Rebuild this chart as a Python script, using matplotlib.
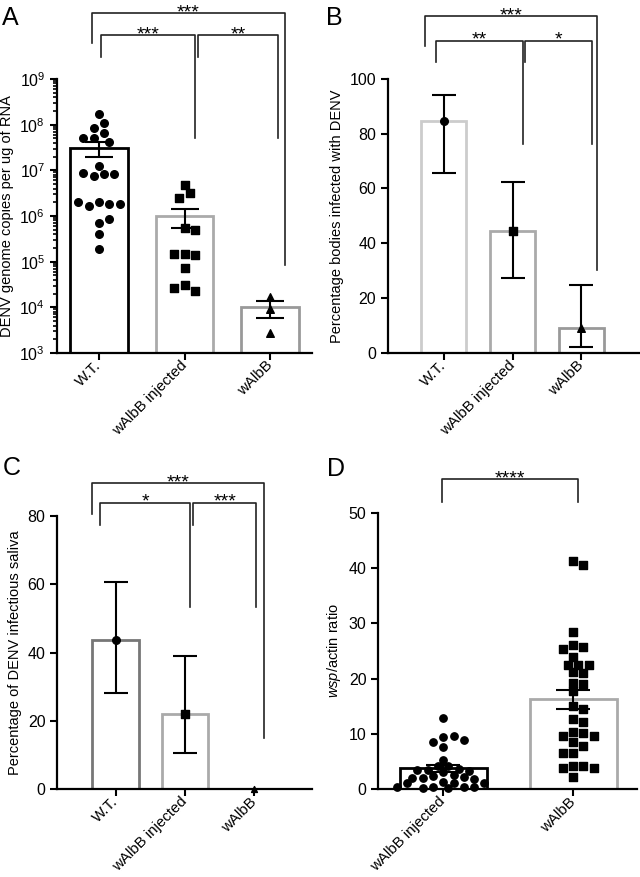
import numpy as np
import matplotlib
matplotlib.use("Agg")
import matplotlib.pyplot as plt
from matplotlib.ticker import LogLocator, NullFormatter

plt.rcParams['font.family'] = ['Liberation Sans', 'DejaVu Sans']
plt.rcParams['mathtext.fontset'] = 'custom'
plt.rcParams['mathtext.rm'] = 'Liberation Sans'
plt.rcParams['mathtext.it'] = 'Liberation Sans:italic'

groups3 = ['W.T.', 'wAlbB injected', 'wAlbB']
groups2 = ['wAlbB injected', 'wAlbB']

# A: DENV genome copies per ug RNA
a_wt = [1.7e8, 1.1e8, 8.3e7, 6.7e7, 5.0e7, 4.2e7, 5.0e7, 1.26e7, 8.5e6, 7.4e6, 8.2e6,
        8.9e6, 2.0e6, 1.8e6, 1.66e6, 1.85e6, 2.0e6, 6.9e5, 8.5e5, 4.0e5, 1.9e5]
a_inj = [4.8e6, 3.2e6, 2.5e6, 5.4e5, 5.0e5, 1.5e5, 1.4e5, 1.5e5, 7.4e4, 3.1e4, 2.3e4, 2.6e4]
a_walbb = [1.7e4, 9.0e3, 2.8e3]
a_mean = [3.1e7, 1.0e6, 1.0e4]
a_lo = [2.0e7, 5.5e5, 5.8e3]
a_hi = [4.1e7, 1.45e6, 1.4e4]

# B: percentage bodies infected
b_pct = [84.5, 44.4, 9.1]
b_lo = [65.8, 27.3, 2.2]
b_hi = [94.3, 62.4, 24.6]

# C: percentage infectious saliva
c_pct = [43.7, 21.9, 0.0]
c_lo = [28.1, 10.5, 0.0]
c_hi = [60.7, 39.0, 0.0]

# D: wsp/actin ratio
d_inj = [12.8, 9.5, 9.6, 8.6, 9.0, 7.7, 5.3, 4.3, 4.2, 3.6, 3.4, 3.3, 3.5, 3.2, 2.6,
         2.4, 2.2, 2.0, 1.9, 2.1, 1.3, 1.2, 1.1, 1.2, 0.5, 0.4, 0.2, 0.3, 0.4, 0.5]
d_walbb = [41.2, 40.6, 28.5, 26.0, 25.7, 25.4, 23.9, 22.5, 22.5, 22.5, 21.2, 21.0, 19.3,
           19.0, 17.8, 15.1, 14.6, 12.7, 12.2, 10.4, 10.1, 9.6, 9.6, 8.6, 7.8, 6.6, 6.6,
           4.3, 4.3, 3.9, 3.9, 2.3]
d_mean = [3.8, 16.3]
d_lo = [3.1, 14.5]
d_hi = [4.4, 18.0]

W, H = 640, 877
fig = plt.figure(figsize=(W / 100, H / 100), dpi=100)


def axes_px(left, top, right, bottom):
    return fig.add_axes([left / W, 1 - bottom / H, (right - left) / W, (bottom - top) / H])


def style(ax, labels):
    for s in ['top', 'right']:
        ax.spines[s].set_visible(False)
    for s in ['left', 'bottom']:
        ax.spines[s].set_linewidth(1.6)
    ax.tick_params(width=1.5, length=5, labelsize=11.5, direction='out')
    ax.tick_params(axis='x', labelsize=10.8, pad=2.5)
    ax.set_xticks(range(len(labels)))
    ax.set_xticklabels(labels, rotation=45, ha='right', va='center', rotation_mode='anchor')


def swarm(ax, xc, vals, gap, tight=0.75):
    # simple beeswarm: half-step offsets, pixel based collision test
    disp = ax.transData.transform(np.column_stack([np.full(len(vals), xc), vals]))
    cands = [0]
    for i in range(1, 40):
        cands += [i * 0.5, -i * 0.5]
    placed = []
    for px, py in disp:
        for c in cands:
            cx = px + c * gap
            if all((cx - qx) ** 2 + (py - qy) ** 2 >= (gap * tight) ** 2 for qx, qy in placed):
                break
        placed.append((cx, py))
    back = ax.transData.inverted().transform(np.array(placed))
    return back[:, 0]


def bracket(ax, x1, x2, y, y1, y2, text):
    ax.plot([x1, x1, x2, x2], [y1, y, y, y2], color='#222222', lw=1.2, clip_on=False)
    ax.annotate(text, ((x1 + x2) / 2, y), xytext=(0, -3), textcoords='offset points',
                ha='center', va='baseline', fontsize=14, annotation_clip=False)


def errs(ax, x, mid, lo, hi, cap):
    mid = np.array(mid); lo = np.array(lo); hi = np.array(hi)
    ax.errorbar(x, mid, yerr=[mid - lo, hi - mid], fmt='none', ecolor='k',
                elinewidth=1.5, capsize=cap, capthick=1.5, zorder=4, clip_on=False)


# ---------- A ----------
ax = axes_px(57, 79, 312, 353)
ax.set_yscale('log')
ax.set_ylim(1e3, 1e9)
ax.set_xlim(-0.49, 2.49)
style(ax, groups3)
ax.yaxis.set_minor_locator(LogLocator(base=10, subs=np.arange(2, 10)))
ax.yaxis.set_minor_formatter(NullFormatter())
ax.tick_params(which='minor', width=1.2, length=3)
ax.bar(range(3), np.array(a_mean) - 1e3, bottom=1e3, width=0.67, color='white',
       edgecolor=['black', '#aaaaaa', '#999999'], linewidth=2, zorder=2)
errs(ax, range(3), a_mean, a_lo, a_hi, 10)
ax.scatter(swarm(ax, 0, a_wt, 10.3, 0.9), a_wt, s=30, marker='o', color='black', zorder=5)
ax.scatter(swarm(ax, 1, a_inj, 10.3, 0.9), a_inj, s=28, marker='s', color='black', zorder=5)
ax.scatter(swarm(ax, 2, a_walbb, 10.3), a_walbb, s=30, marker='^', color='black', zorder=5)
ax.set_ylabel('DENV genome copies per ug of RNA', fontsize=10.5)
bracket(ax, -0.08, 2.175, 10 ** 10.444, 10 ** 9.788, 10 ** 4.93, '***')
bracket(ax, 0.023, 1.12, 10 ** 9.963, 10 ** 9.481, 10 ** 7.709, '***')
bracket(ax, 1.16, 2.09, 10 ** 9.963, 10 ** 9.481, 10 ** 7.709, '**')

# ---------- B ----------
ax = axes_px(388, 79, 640, 352.7)
ax.set_ylim(0, 100)
ax.set_xlim(-0.81, 2.85)
style(ax, groups3)
ax.set_yticks([0, 20, 40, 60, 80, 100])
ax.bar(range(3), b_pct, width=0.66, color='white',
       edgecolor=['#cccccc', '#aaaaaa', '#999999'], linewidth=2, zorder=2)
errs(ax, range(3), b_pct, b_lo, b_hi, 8.6)
for i, m in enumerate(['o', 's', '^']):
    ax.scatter([i], [b_pct[i]], s=30, marker=m, color='black', zorder=5)
ax.set_ylabel('Percentage bodies infected with DENV', fontsize=10.5)
bracket(ax, -0.27, 2.23, 123, 112, 30.2, '***')
bracket(ax, -0.11, 1.15, 114, 106.2, 76.3, '**')
bracket(ax, 1.18, 2.16, 114, 106.2, 76.3, '*')

# ---------- C ----------
ax = axes_px(57.3, 516, 311.7, 789.3)
ax.set_ylim(0, 80)
ax.set_xlim(-0.84, 2.83)
style(ax, groups3)
ax.set_yticks([0, 20, 40, 60, 80])
ax.bar(range(3), c_pct, width=0.67, color='white',
       edgecolor=['#777777', '#aaaaaa', '#999999'], linewidth=2, zorder=2)
errs(ax, range(2), c_pct[:2], c_lo[:2], c_hi[:2], 8.6)
for i, m in enumerate(['o', 's', '^']):
    ax.scatter([i], [c_pct[i]], s=30 if i < 2 else 18, marker=m, color='black',
               zorder=5, clip_on=False)
ax.set_ylabel('Percentage of DENV infectious saliva', fontsize=10.5)
bracket(ax, -0.34, 2.14, 89.6, 80.6, 15.0, '***')
bracket(ax, -0.22, 1.08, 83.9, 77.3, 53.4, '*')
bracket(ax, 1.12, 2.03, 83.9, 77.3, 53.4, '***')

# ---------- D ----------
ax = axes_px(378.3, 512.7, 636.7, 789.3)
ax.set_ylim(0, 50)
ax.set_xlim(-0.5, 1.49)
style(ax, groups2)
ax.set_yticks([0, 10, 20, 30, 40, 50])
ax.bar(range(2), d_mean, width=0.67, color='white',
       edgecolor=['black', '#aaaaaa'], linewidth=2, zorder=2)
errs(ax, range(2), d_mean, d_lo, d_hi, 12)
ax.scatter(swarm(ax, 0, d_inj, 10.3, 0.72), d_inj, s=28, marker='o', color='black',
           zorder=5, clip_on=False)
ax.scatter(swarm(ax, 1, d_walbb, 10.3, 0.8), d_walbb, s=28, marker='s', color='black',
           zorder=5, clip_on=False)
ax.set_ylabel(r'$\mathit{wsp}$/actin ratio', fontsize=10.5)
bracket(ax, -0.01, 1.04, 56.1, 52.0, 52.0, '****')

# panel letters
for letter, x, y in [('A', 2, 25), ('B', 326, 25), ('C', 3, 475), ('D', 327, 476)]:
    fig.text(x / W, 1 - y / H, letter, fontsize=18, va='baseline', ha='left')

fig.savefig('out.png', dpi=100)
